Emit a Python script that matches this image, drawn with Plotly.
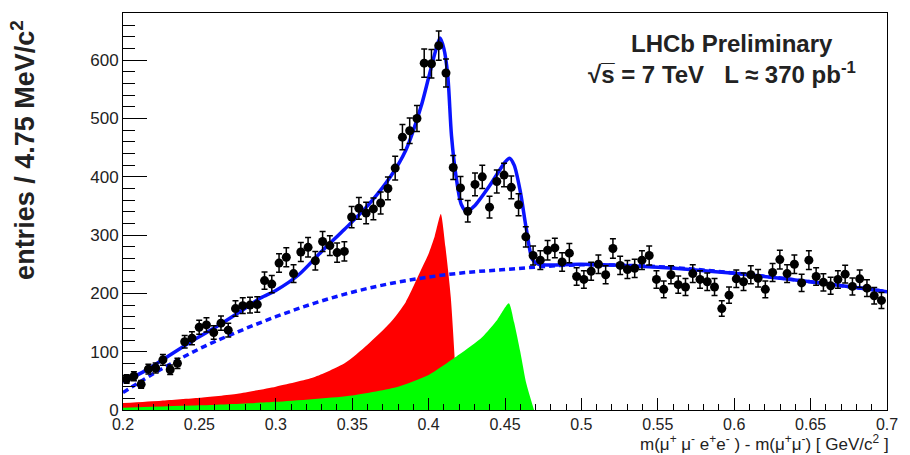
import numpy as np
import plotly.graph_objects as go

# Histogram binning: 4.75 MeV bins starting at 0.2 GeV/c^2
BIN_LO = 0.2
BIN_WIDTH = 0.00475

# Entries per bin
counts = [
    53, 58, 44, 70, 72, 86, 69, 80, 117, 123,
    142, 146, 133, 149, 137, 174, 179, 180, 181, 222,
    216, 252, 262, 234, 271, 279, 256, 289, 282, 270,
    272, 331, 346, 338, 345, 355, 380, 415, 468, 479,
    500, 595, 594, 625, 578, 416, 381, 341, 387, 400,
    348, 392, 403, 382, 352, 297, 265, 257, 274, 278,
    254, 269, 229, 224, 238, 250, 232, 277, 248, 241,
    243, 257, 265, 224, 207, 232, 215, 211, 234, 224,
    220, 211, 174, 197, 225, 220, 232, 226, 207, 236,
    258, 234, 250, 218, 257, 229, 219, 213, 224, 233,
    212, 225, 209, 196, 188,
]

# Total fit curve
fit_x = [0.200, 0.215, 0.230, 0.245, 0.260, 0.275, 0.290, 0.300, 0.315, 0.330,
         0.345, 0.360, 0.375, 0.385, 0.395, 0.400, 0.405, 0.4075, 0.410, 0.4125,
         0.415, 0.418, 0.4215, 0.425, 0.430, 0.440, 0.450, 0.453, 0.456, 0.460,
         0.464, 0.468, 0.472, 0.500, 0.550, 0.600, 0.650, 0.700]
fit_y = [48, 68, 93, 118, 141, 166, 192, 205, 232, 272,
         310, 350, 400, 445, 520, 570, 620, 638, 620, 575,
         470, 400, 352, 340, 350, 385, 425, 432, 420, 375,
         310, 258, 250, 250, 245, 234.5, 220, 203]

# Combinatorial background component
bkg_x = [0.200, 0.225, 0.250, 0.275, 0.300, 0.325, 0.350, 0.375, 0.400, 0.425,
         0.450, 0.475, 0.500, 0.550, 0.600, 0.650, 0.700]
bkg_y = [30, 70, 105, 134, 160, 183, 202, 217, 228, 236,
         241, 246, 249, 246, 235, 220, 203]

# First signal component (red)
red_x = [0.200, 0.225, 0.250, 0.275, 0.300, 0.325, 0.345, 0.360, 0.375, 0.385,
         0.395, 0.400, 0.404, 0.408, 0.411, 0.4145, 0.419]
red_y = [12, 16, 21, 28, 40, 56, 80, 112, 150, 185,
         240, 268, 298, 336, 280, 194, 0]

# Second signal component (green)
green_x = [0.200, 0.250, 0.300, 0.350, 0.380, 0.400, 0.420, 0.435, 0.445, 0.4525,
           0.456, 0.460, 0.464, 0.469]
green_y = [4, 8, 14, 25, 40, 60, 95, 125, 155, 183,
           150, 100, 45, 0]

x_ticks = [0.2, 0.25, 0.3, 0.35, 0.4, 0.45, 0.5, 0.55, 0.6, 0.65, 0.7]
x_ticktext = ["0.2", "0.25", "0.3", "0.35", "0.4", "0.45", "0.5", "0.55", "0.6", "0.65", "0.7"]
y_ticks = [0, 100, 200, 300, 400, 500, 600]

centers = [BIN_LO + BIN_WIDTH * (i + 0.5) for i in range(len(counts))]
errors = np.sqrt(np.array(counts, dtype=float))

BLUE = "#0a14ff"
FONT = "Liberation Sans, Arial, sans-serif"
fig = go.Figure()

fig.add_trace(go.Scatter(
    x=red_x, y=red_y, mode="lines", fill="tozeroy",
    line=dict(color="#ff0000", width=0, shape="spline", smoothing=0.6),
    fillcolor="#ff0000", hoverinfo="skip", showlegend=False))
fig.add_trace(go.Scatter(
    x=green_x, y=green_y, mode="lines", fill="tozeroy",
    line=dict(color="#00ff00", width=0, shape="spline", smoothing=0.6),
    fillcolor="#00ff00", hoverinfo="skip", showlegend=False))
fig.add_trace(go.Scatter(
    x=bkg_x, y=bkg_y, mode="lines",
    line=dict(color=BLUE, width=3.5, dash="6px,4px", shape="spline"),
    hoverinfo="skip", showlegend=False))
fig.add_trace(go.Scatter(
    x=fit_x, y=fit_y, mode="lines",
    line=dict(color=BLUE, width=3.5, shape="spline", smoothing=0.8),
    hoverinfo="skip", showlegend=False))
fig.add_trace(go.Scatter(
    x=centers, y=counts, mode="markers",
    marker=dict(color="black", size=9, symbol="circle"),
    error_y=dict(type="data", array=errors, color="black", thickness=1.5, width=3),
    showlegend=False))

fig.update_layout(
    width=910, height=455,
    margin=dict(l=123, r=15, t=13, b=45),
    paper_bgcolor="white", plot_bgcolor="white",
    xaxis=dict(
        range=[0.2, 0.7], tickvals=x_ticks, ticktext=x_ticktext,
        ticks="inside", ticklen=12, tickwidth=1, tickcolor="black",
        minor=dict(dtick=0.01, ticks="inside", ticklen=6, tickcolor="black", tickwidth=1),
        showline=True, linecolor="black", linewidth=1, mirror=True,
        showgrid=False, zeroline=False,
        tickfont=dict(family=FONT, size=16, color="#222")),
    yaxis=dict(
        range=[0, 681], tickvals=y_ticks,
        ticks="inside", ticklen=24, tickwidth=1, tickcolor="black",
        minor=dict(dtick=20, ticks="inside", ticklen=12, tickcolor="black", tickwidth=1),
        showline=True, linecolor="black", linewidth=1, mirror=True,
        showgrid=False, zeroline=False,
        tickfont=dict(family=FONT, size=17, color="#222")),
    annotations=[
        dict(text="<b>entries / 4.75 MeV/c<sup>2</sup></b>", textangle=-90,
             xref="paper", yref="paper", x=-0.131, y=0.655,
             xanchor="center", yanchor="middle", showarrow=False,
             font=dict(family=FONT, size=27, color="#222")),
        dict(text="m(\u03bc<sup>+</sup> \u03bc<sup>-</sup> e<sup>+</sup>e<sup>-</sup> ) - m(\u03bc<sup>+</sup>\u03bc<sup>-</sup>) [ GeV/c<sup>2</sup> ]",
             xref="paper", yref="paper", x=1.005, y=-0.083,
             xanchor="right", yanchor="middle", showarrow=False,
             font=dict(family=FONT, size=17, color="#222")),
        dict(text="<b>LHCb Preliminary</b>",
             xref="paper", yref="paper", x=0.7966, y=0.922,
             xanchor="center", yanchor="middle", showarrow=False,
             font=dict(family=FONT, size=24, color="#222")),
        dict(text="<b>\u221as\u0305 = 7 TeV   L \u2248 370 pb<sup>-1</sup></b>",
             xref="paper", yref="paper", x=0.7837, y=0.849,
             xanchor="center", yanchor="middle", showarrow=False,
             font=dict(family=FONT, size=24, color="#222")),
    ],
)

fig.write_html("out.html")
